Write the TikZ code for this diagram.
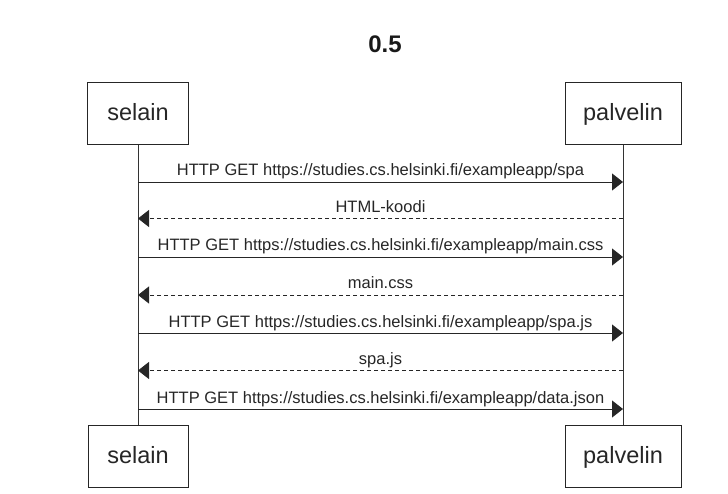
\documentclass[tikz,border=0pt]{standalone}
\usepackage{fontspec}
\setmainfont{Liberation Sans}
\usetikzlibrary{arrows.meta}
\begin{document}
\begin{tikzpicture}[x=1pt,y=-1pt,
  actor/.style={draw=black!85,line width=0.8pt,minimum height=62pt,inner xsep=0pt,inner ysep=0pt,text height=18pt,text depth=4pt,font=\fontsize{23.5}{28}\selectfont,text=black!85},
  lifeline/.style={draw=black!80,line width=0.8pt},
  msg/.style={draw=black!85,line width=0.9pt,-{Triangle[length=11pt,width=17pt]}},
  reply/.style={msg,dash pattern=on 4pt off 3pt},
  lbl/.style={font=\fontsize{16.5}{20}\selectfont,text=black!85,inner sep=0pt,anchor=base}]
\useasboundingbox (0,0) rectangle (728,494);
\node[font=\bfseries\fontsize{24}{28}\selectfont,text=black!90] (title) at (385,44.5) {0.5};
\node[actor,minimum width=101pt] (s1) at (138,113.5) {selain};
\node[actor,minimum width=116pt] (p1) at (623,113.5) {palvelin};
\node[actor,minimum width=100pt] (s2) at (138,456) {selain};
\node[actor,minimum width=116pt] (p2) at (623,456) {palvelin};
\draw[lifeline] (s1) -- (s2);
\draw[lifeline] (p1) -- (p2);
\foreach \i/\y in {1/182,2/218.5,3/257,4/295,5/333,6/370.5,7/409}{
  \coordinate (a\i) at (138,\y);
  \coordinate (b\i) at (623,\y);
}
\draw[msg] (a1) -- (b1) node[lbl,midway,yshift=6pt] (l1) {HTTP GET https://studies.cs.helsinki.fi/exampleapp/spa};
\draw[reply] (b2) -- (a2) node[lbl,midway,yshift=6pt] (l2) {HTML-koodi};
\draw[msg] (a3) -- (b3) node[lbl,midway,yshift=6pt] (l3) {HTTP GET https://studies.cs.helsinki.fi/exampleapp/main.css};
\draw[reply] (b4) -- (a4) node[lbl,midway,yshift=6pt] (l4) {main.css};
\draw[msg] (a5) -- (b5) node[lbl,midway,yshift=6pt] (l5) {HTTP GET https://studies.cs.helsinki.fi/exampleapp/spa.js};
\draw[reply] (b6) -- (a6) node[lbl,midway,yshift=6pt] (l6) {spa.js};
\draw[msg] (a7) -- (b7) node[lbl,midway,yshift=6pt] (l7) {HTTP GET https://studies.cs.helsinki.fi/exampleapp/data.json};
\end{tikzpicture}
\end{document}
